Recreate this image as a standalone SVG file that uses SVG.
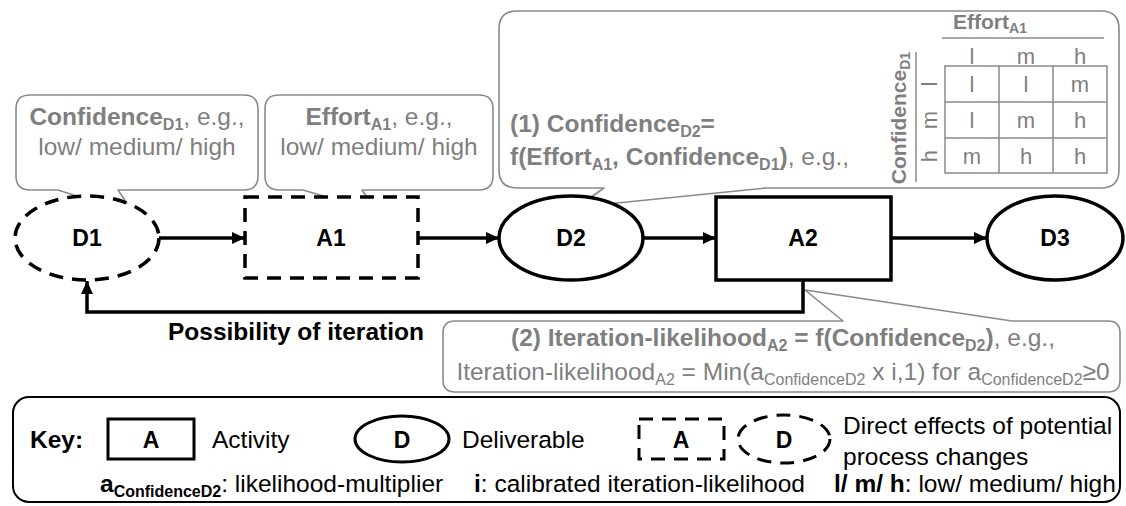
<svg xmlns="http://www.w3.org/2000/svg" width="1126" height="506" viewBox="0 0 1126 506">
  <defs>
    <marker id="arrow" markerUnits="userSpaceOnUse" markerWidth="14" markerHeight="12" refX="13" refY="6" orient="auto">
      <path d="M0,0 L13,6 L0,12 Z" fill="#000"/>
    </marker>
    <style>
      text { font-family: "Liberation Sans", Arial, sans-serif; }
      .gt { fill: #7f7f7f; font-size: 24.5px; }
      .kt { fill: #000; font-size: 24.5px; }
      .b { font-weight: bold; }
      .sub { font-size: 16px; }
      .callout { fill: #fff; stroke: #8a8a8a; stroke-width: 1.6; stroke-linejoin: round; }
      .node { fill: #fff; stroke: #000; stroke-width: 3.5; }
      .dash { stroke-dasharray: 14 9; }
      .lbl { font-size: 23px; font-weight: bold; fill: #000; text-anchor: middle; }
      .conn { fill: none; stroke: #000; stroke-width: 3.5; }
      .grid { fill: none; stroke: #8a8a8a; stroke-width: 1.5; }
      .tb { fill: #7f7f7f; font-size: 21px; font-weight: bold; }
      .tc { fill: #7f7f7f; font-size: 22px; text-anchor: middle; }
    </style>
  </defs>

  <!-- callout: confidence of D1 -->
  <g id="callout-d1">
    <path class="callout" d="M30,95 H244 Q258,95 258,109 V176 Q258,190 244,190 H118 L135,215 L58,190 H30 Q16,190 16,176 V109 Q16,95 30,95 Z"/>
    <text class="gt" x="137" y="125" text-anchor="middle"><tspan class="b">Confidence</tspan><tspan class="b sub" dy="5">D1</tspan><tspan dy="-5">, e.g.,</tspan></text>
    <text class="gt" x="137" y="155" text-anchor="middle">low/ medium/ high</text>
  </g>

  <!-- callout: effort of A1 -->
  <g id="callout-a1">
    <path class="callout" d="M279,95 H479 Q493,95 493,109 V176 Q493,190 479,190 H362 L377,212 L303,190 H279 Q265,190 265,176 V109 Q265,95 279,95 Z"/>
    <text class="gt" x="379" y="125" text-anchor="middle"><tspan class="b">Effort</tspan><tspan class="b sub" dy="5">A1</tspan><tspan dy="-5">, e.g.,</tspan></text>
    <text class="gt" x="379" y="155" text-anchor="middle">low/ medium/ high</text>
  </g>

  <!-- callout: confidence of D2 with lookup table -->
  <g id="callout-d2">
    <path class="callout" d="M517,11 H1101 Q1119,11 1119,29 V170 Q1119,188 1101,188 H766 L577,207 L604,188 H517 Q499,188 499,170 V29 Q499,11 517,11 Z"/>
    <text class="gt b" x="510" y="132">(1) Confidence<tspan class="sub" dy="5">D2</tspan><tspan dy="-5">=</tspan></text>
    <text class="gt" x="510" y="165"><tspan class="b">f(Effort</tspan><tspan class="b sub" dy="5">A1</tspan><tspan class="b" dy="-5">, Confidence</tspan><tspan class="b sub" dy="5">D1</tspan><tspan class="b" dy="-5">)</tspan>, e.g.,</text>
    <!-- table -->
    <text class="tb" x="990" y="29" text-anchor="middle">Effort<tspan style="font-size:14px" dy="4">A1</tspan></text>
    <line class="grid" x1="942" y1="38" x2="1104" y2="38"/>
    <line class="grid" x1="916" y1="52" x2="916" y2="182"/>
    <text class="tb" transform="translate(906,118) rotate(-90)" text-anchor="middle">Confidence<tspan style="font-size:14px" dy="4">D1</tspan></text>
    <text class="tc" x="972" y="64">l</text>
    <text class="tc" x="1026" y="64">m</text>
    <text class="tc" x="1080" y="64">h</text>
    <text class="tc" transform="translate(937,84) rotate(-90)">l</text>
    <text class="tc" transform="translate(937,120) rotate(-90)">m</text>
    <text class="tc" transform="translate(937,156) rotate(-90)">h</text>
    <rect class="grid" x="945" y="66" width="162" height="107"/>
    <line class="grid" x1="999" y1="66" x2="999" y2="173"/>
    <line class="grid" x1="1053" y1="66" x2="1053" y2="173"/>
    <line class="grid" x1="945" y1="102" x2="1107" y2="102"/>
    <line class="grid" x1="945" y1="138" x2="1107" y2="138"/>
    <text class="tc" x="972" y="92">l</text>
    <text class="tc" x="1026" y="92">l</text>
    <text class="tc" x="1080" y="92">m</text>
    <text class="tc" x="972" y="128">l</text>
    <text class="tc" x="1026" y="128">m</text>
    <text class="tc" x="1080" y="128">h</text>
    <text class="tc" x="972" y="164">m</text>
    <text class="tc" x="1026" y="164">h</text>
    <text class="tc" x="1080" y="164">h</text>
  </g>

  <!-- callout: iteration likelihood of A2 -->
  <g id="callout-a2">
    <path class="callout" d="M455,321 H843 L805,290 L1012,321 H1108 Q1120,321 1120,333 V380 Q1120,392 1108,392 H455 Q443,392 443,380 V333 Q443,321 455,321 Z"/>
    <text class="gt" x="783" y="346" text-anchor="middle"><tspan class="b">(2) Iteration-likelihood</tspan><tspan class="b sub" dy="5">A2</tspan><tspan class="b" dy="-5"> = f(Confidence</tspan><tspan class="b sub" dy="5">D2</tspan><tspan class="b" dy="-5">)</tspan>, e.g.,</text>
    <text class="gt" x="783" y="380" text-anchor="middle">Iteration-likelihood<tspan class="sub" dy="5">A2</tspan><tspan dy="-5"> = Min(a</tspan><tspan class="sub" dy="5">ConfidenceD2</tspan><tspan dy="-5"> x i,1) for a</tspan><tspan class="sub" dy="5">ConfidenceD2</tspan><tspan dy="-5">≥0</tspan></text>
  </g>

  <!-- connectors -->
  <g id="connectors">
    <line class="conn" x1="158" y1="238" x2="245" y2="238" marker-end="url(#arrow)"/>
    <line class="conn" x1="418" y1="238" x2="499" y2="238" marker-end="url(#arrow)"/>
    <line class="conn" x1="643" y1="238" x2="716" y2="238" marker-end="url(#arrow)"/>
    <line class="conn" x1="891" y1="238" x2="987" y2="238" marker-end="url(#arrow)"/>
    <polyline class="conn" points="803,280 803,312 87,312 87,281" marker-end="url(#arrow)"/>
    <text class="kt b" x="168" y="340">Possibility of iteration</text>
  </g>

  <!-- nodes -->
  <g id="D1">
    <ellipse class="node dash" cx="87" cy="238" rx="72" ry="42"/>
    <text class="lbl" x="87" y="246">D1</text>
  </g>
  <g id="A1">
    <rect class="node dash" x="245" y="197" width="173" height="81"/>
    <text class="lbl" x="331" y="246">A1</text>
  </g>
  <g id="D2">
    <ellipse class="node" cx="571" cy="238" rx="72" ry="42"/>
    <text class="lbl" x="571" y="246">D2</text>
  </g>
  <g id="A2">
    <rect class="node" x="716" y="197" width="175" height="83"/>
    <text class="lbl" x="803" y="246">A2</text>
  </g>
  <g id="D3">
    <ellipse class="node" cx="1055" cy="238" rx="68" ry="42"/>
    <text class="lbl" x="1055" y="246">D3</text>
  </g>

  <!-- key -->
  <g id="key">
    <rect x="13" y="397" width="1107" height="105" rx="16" fill="#fff" stroke="#000" stroke-width="2"/>
    <text class="kt b" x="30" y="448">Key:</text>
    <rect x="108" y="419" width="86" height="40" fill="#fff" stroke="#000" stroke-width="3"/>
    <text class="lbl" x="151" y="448">A</text>
    <text class="kt" x="212" y="448">Activity</text>
    <ellipse cx="402" cy="439" rx="47" ry="23" fill="#fff" stroke="#000" stroke-width="3"/>
    <text class="lbl" x="402" y="448">D</text>
    <text class="kt" x="462" y="448">Deliverable</text>
    <rect class="dash" x="639" y="419" width="85" height="40" fill="#fff" stroke="#000" stroke-width="3"/>
    <text class="lbl" x="681" y="448">A</text>
    <ellipse class="dash" cx="784" cy="439" rx="46" ry="24" fill="#fff" stroke="#000" stroke-width="3"/>
    <text class="lbl" x="784" y="448">D</text>
    <text class="kt" x="843" y="434">Direct effects of potential</text>
    <text class="kt" x="843" y="465">process changes</text>
    <text class="kt" x="100" y="492"><tspan class="b">a</tspan><tspan class="b sub" dy="5">ConfidenceD2</tspan><tspan dy="-5">: likelihood-multiplier</tspan></text>
    <text class="kt" x="474" y="492"><tspan class="b">i</tspan>: calibrated iteration-likelihood</text>
    <text class="kt" x="834" y="492"><tspan class="b">l/ m/ h</tspan>: low/ medium/ high</text>
  </g>
</svg>
